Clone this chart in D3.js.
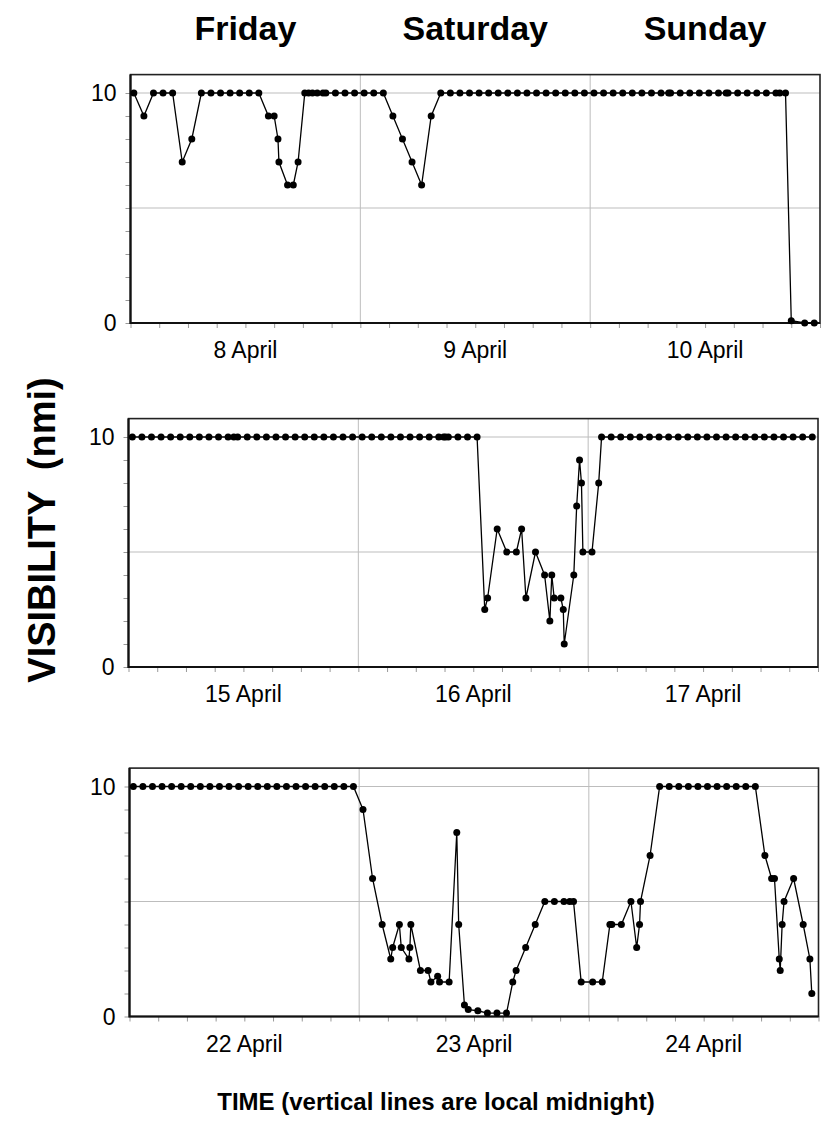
<!DOCTYPE html>
<html>
<head>
<meta charset="utf-8">
<script src="https://cdn.jsdelivr.net/npm/d3@7"></script>
<style>
  html, body { margin: 0; padding: 0; background: #fff; }
  svg { display: block; }
  text { font-family: "Liberation Sans", Arial, Helvetica, sans-serif; fill: #000; white-space: pre; }
</style>
</head>
<body>
<svg id="chart" width="823" height="1130"></svg>
<script>
// Day names shown over the three day-columns
const dayNames = ["Friday", "Saturday", "Sunday"];

// Date labels under each panel (one per day)
const week1Dates = ["8 April", "9 April", "10 April"];
const week2Dates = ["15 April", "16 April", "17 April"];
const week3Dates = ["22 April", "23 April", "24 April"];

// Y tick labels
const visTickLabels = ["0", "10"];

// Observation times (hours after the start of the first day) and visibility (nmi)
const week1Hours = [0.35, 1.4, 2.4, 3.4, 4.4, 5.4, 6.4, 7.4, 8.4, 9.4, 10.4, 11.4, 12.4, 13.4,
  14.4, 15.0, 15.4, 15.5, 16.4, 17.0, 17.5, 18.2, 18.6, 19.0, 19.5, 20.1, 20.4, 21.4, 22.4, 23.4,
  24.4, 25.4, 26.4, 27.4, 28.4, 29.4, 30.4, 31.4, 32.4, 33.4, 34.4, 35.4, 36.4, 37.4, 38.4, 39.4,
  40.4, 41.4, 42.4, 43.4, 44.4, 45.4, 46.4, 47.4, 48.4, 49.4, 50.4, 51.4, 52.4, 53.4, 54.4, 55.4,
  56.2, 56.4, 57.4, 58.4, 59.4, 60.4, 61.4, 62.2, 62.4, 63.4, 64.4, 65.4, 66.4, 67.4, 67.8, 68.4,
  69.0, 70.4, 71.4];
const week1Vis = [10, 9, 10, 10, 10, 7, 8, 10, 10, 10, 10, 10, 10, 10,
  9, 9, 8, 7, 6, 6, 7, 10, 10, 10, 10, 10, 10, 10, 10, 10,
  10, 10, 10, 9, 8, 7, 6, 9, 10, 10, 10, 10, 10, 10, 10, 10,
  10, 10, 10, 10, 10, 10, 10, 10, 10, 10, 10, 10, 10, 10, 10, 10,
  10, 10, 10, 10, 10, 10, 10, 10, 10, 10, 10, 10, 10, 10, 10, 10,
  0.1, 0, 0];

const week2Hours = [0.4, 1.4, 2.4, 3.4, 4.4, 5.4, 6.4, 7.4, 8.4, 9.4, 10.4, 11.0, 11.4, 12.4, 13.4,
  14.4, 15.4, 16.4, 17.4, 18.4, 19.4, 20.4, 21.4, 22.4, 23.4, 24.4, 25.4, 26.4, 27.4, 28.4, 29.4,
  30.4, 31.4, 32.4, 32.9, 33.1, 33.4, 34.4, 35.4, 36.4, 37.2, 37.5, 38.5, 39.5, 40.5, 41.05, 41.5,
  42.5, 43.45, 44.0, 44.2, 44.45, 45.15, 45.4, 45.5, 46.5, 46.8, 47.1, 47.3, 47.45, 48.4, 49.1,
  49.4, 50.4, 51.4, 52.4, 53.4, 54.4, 55.4, 56.4, 57.4, 58.4, 59.4, 60.4, 61.4, 62.4, 63.4, 64.4,
  65.4, 66.4, 67.4, 68.4, 69.4, 70.4, 71.4];
const week2Vis = [10, 10, 10, 10, 10, 10, 10, 10, 10, 10, 10, 10, 10, 10, 10,
  10, 10, 10, 10, 10, 10, 10, 10, 10, 10, 10, 10, 10, 10, 10, 10,
  10, 10, 10, 10, 10, 10, 10, 10, 10, 2.5, 3, 6, 5, 5, 6, 3,
  5, 4, 2, 4, 3, 3, 2.5, 1, 4, 7, 9, 8, 5, 5, 8,
  10, 10, 10, 10, 10, 10, 10, 10, 10, 10, 10, 10, 10, 10, 10, 10,
  10, 10, 10, 10, 10, 10, 10];

const week3Hours = [0.4, 1.4, 2.4, 3.4, 4.4, 5.4, 6.4, 7.4, 8.4, 9.4, 10.4, 11.4, 12.4, 13.4, 14.4,
  15.4, 16.4, 17.4, 18.4, 19.4, 20.4, 21.4, 22.4, 23.4, 24.4, 25.4, 26.4, 27.3, 27.5, 28.2, 28.4,
  29.2, 29.3, 29.4, 30.4, 31.2, 31.5, 32.2, 32.4, 33.4, 34.2, 34.4, 35.0, 35.4, 36.4, 37.4, 38.4,
  39.4, 40.05, 40.4, 41.4, 42.4, 43.4, 44.4, 45.4, 46.0, 46.4, 47.2, 48.4, 49.4, 50.2, 50.4, 51.4,
  52.4, 53.0, 53.3, 53.4, 54.4, 55.4, 56.4, 57.4, 58.4, 59.4, 60.4, 61.4, 62.4, 63.4, 64.4, 65.4,
  66.4, 67.1, 67.4, 67.9, 68.0, 68.2, 68.4, 69.4, 70.4, 71.1, 71.3];
const week3Vis = [10, 10, 10, 10, 10, 10, 10, 10, 10, 10, 10, 10, 10, 10, 10,
  10, 10, 10, 10, 10, 10, 10, 10, 10, 9, 6, 4, 2.5, 3, 4, 3,
  2.5, 3, 4, 2, 2, 1.5, 1.75, 1.5, 1.5, 8, 4, 0.5, 0.3, 0.25, 0.15, 0.15,
  0.15, 1.5, 2, 3, 4, 5, 5, 5, 5, 5, 1.5, 1.5, 1.5, 4, 4, 4,
  5, 3, 4, 5, 7, 10, 10, 10, 10, 10, 10, 10, 10, 10, 10, 10,
  7, 6, 6, 2.5, 2, 4, 5, 6, 4, 2.5, 1];

const panels = [
  { hours: week1Hours, vis: week1Vis, dates: week1Dates, left: 130.5, right: 820, base: 323 },
  { hours: week2Hours, vis: week2Vis, dates: week2Dates, left: 128.5, right: 818, base: 667 },
  { hours: week3Hours, vis: week3Vis, dates: week3Dates, left: 129.5, right: 818.5, base: 1016.5 }
];

const svg = d3.select("#chart");
const pxPerUnit = 23;
const visMax = 10.8;

panels.forEach(p => {
  const x = d3.scaleLinear().domain([0, 72]).range([p.left, p.right]);
  const y = d3.scaleLinear().domain([0, visMax]).range([p.base, p.base - visMax * pxPerUnit]);
  const g = svg.append("g");

  // horizontal grid at 5 and 10
  g.selectAll("line.hgrid").data([5, 10]).join("line")
    .attr("x1", p.left).attr("x2", p.right)
    .attr("y1", d => y(d)).attr("y2", d => y(d))
    .attr("stroke", "#bdbdbd").attr("stroke-width", 1);

  // vertical lines at local midnight
  g.selectAll("line.vgrid").data([24, 48]).join("line")
    .attr("x1", d => x(d)).attr("x2", d => x(d))
    .attr("y1", y(visMax)).attr("y2", y(0))
    .attr("stroke", "#bdbdbd").attr("stroke-width", 1);

  // x axis: minor ticks every 3 hours
  const xAxis = d3.axisBottom(x).tickValues(d3.range(0, 73, 3)).tickSize(5).tickFormat("");
  const xg = g.append("g").attr("transform", `translate(0,${p.base})`).call(xAxis);
  xg.select(".domain").remove();
  xg.selectAll(".tick line").attr("stroke", "#999");

  // y axis: minor ticks every 1 nmi
  const yAxis = d3.axisLeft(y).tickValues(d3.range(0, 11, 1)).tickSize(5).tickFormat("");
  const yg = g.append("g").attr("transform", `translate(${p.left},0)`).call(yAxis);
  yg.select(".domain").remove();
  yg.selectAll(".tick line").attr("stroke", "#999");

  // frame
  g.append("rect")
    .attr("x", p.left).attr("y", y(visMax))
    .attr("width", p.right - p.left).attr("height", y(0) - y(visMax))
    .attr("fill", "none").attr("stroke", "#222").attr("stroke-width", 1.6);
  // heavier left and bottom axes
  g.append("path")
    .attr("d", `M${p.left},${y(visMax)}V${y(0)}H${p.right}`)
    .attr("fill", "none").attr("stroke", "#111").attr("stroke-width", 2.2);

  // y tick labels
  g.selectAll("text.ylab").data(visTickLabels).join("text")
    .attr("x", p.left - 14).attr("y", d => y(+d))
    .attr("dy", "0.35em")
    .attr("text-anchor", "end")
    .style("font-size", "23px")
    .text(d => d);

  // date labels under each day
  g.selectAll("text.xlab").data(p.dates).join("text")
    .attr("x", (d, i) => x(i * 24 + 12))
    .attr("y", p.base + 35)
    .attr("text-anchor", "middle")
    .style("font-size", "23px")
    .text(d => d);

  const pts = d3.zip(p.hours, p.vis);
  const line = d3.line().x(d => x(d[0])).y(d => y(d[1]));
  g.append("path").datum(pts)
    .attr("d", line)
    .attr("fill", "none").attr("stroke", "#000").attr("stroke-width", 1.3);
  g.selectAll("circle").data(pts).join("circle")
    .attr("cx", d => x(d[0])).attr("cy", d => y(d[1]))
    .attr("r", 3.5).attr("fill", "#000");
});

// day names across the top
const xTop = d3.scaleLinear().domain([0, 72]).range([panels[0].left, panels[0].right]);
svg.selectAll("text.day").data(dayNames).join("text")
  .attr("x", (d, i) => xTop(i * 24 + 12))
  .attr("y", 40)
  .attr("text-anchor", "middle")
  .style("font-size", "34px").style("font-weight", "bold")
  .text(d => d);

// y-axis title
svg.append("text")
  .attr("transform", "translate(55,530) rotate(-90)")
  .attr("text-anchor", "middle")
  .style("font-size", "38px").style("font-weight", "bold")
  .text("VISIBILITY  (nmi)");

// x-axis title
svg.append("text")
  .attr("x", 436).attr("y", 1110)
  .attr("text-anchor", "middle")
  .style("font-size", "24px").style("font-weight", "bold")
  .text("TIME (vertical lines are local midnight)");
</script>
</body>
</html>
